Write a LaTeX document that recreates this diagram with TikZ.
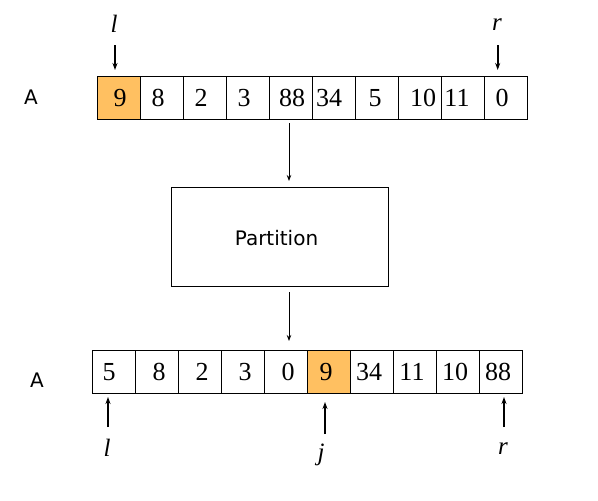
\documentclass[tikz,border=0pt]{standalone}
\usepackage{fontspec}
\setmainfont{Liberation Serif}
\newfontfamily\labelfont{DejaVu Sans}
\usetikzlibrary{arrows.meta}
\definecolor{hl}{RGB}{255,192,97}
\begin{document}
\begin{tikzpicture}[x=1pt,y=-1pt,
  cell/.style={draw, line width=1pt, minimum width=43pt, minimum height=43pt, inner sep=0pt, outer sep=0pt, anchor=north west},
  num/.style={inner sep=0pt, font=\fontsize{26}{26}\selectfont},
  ptrlab/.style={inner sep=0pt, font=\fontsize{25}{25}\selectfont\itshape},
  sans/.style={inner sep=0pt, font=\labelfont\fontsize{20}{20}\selectfont},
  ptr/.style={line width=1.6pt, -{Stealth[length=7pt,width=5pt]}},
  flow/.style={line width=0.9pt, -{Stealth[length=6pt,width=4.5pt]}}]
\useasboundingbox (0,0) rectangle (598,501);
% top array
\node[cell, fill=hl] (t1) at (97.3,76) {};
\node[cell] (t2) at (140.3,76) {};
\node[cell] (t3) at (183.3,76) {};
\node[cell] (t4) at (226.3,76) {};
\node[cell] (t5) at (269.3,76) {};
\node[cell] (t6) at (312.3,76) {};
\node[cell] (t7) at (355.3,76) {};
\node[cell] (t8) at (398.3,76) {};
\node[cell] (t9) at (441.3,76) {};
\node[cell] (t10) at (484.3,76) {};
\node[num] (tn1) at (120,98) {9};
\node[num] (tn2) at (158,98) {8};
\node[num] (tn3) at (201,98) {2};
\node[num] (tn4) at (244,98) {3};
\node[num] (tn5) at (292,98) {88};
\node[num] (tn6) at (329,98) {34};
\node[num] (tn7) at (375,98) {5};
\node[num] (tn8) at (423,98) {10};
\node[num] (tn9) at (457,98) {11};
\node[num] (tn10) at (502,98) {0};
\node[sans] (ta) at (31,97) {A};
\node[ptrlab] (tl) at (114,24) {l};
\node[ptrlab] (tr) at (497,25) {r};
\coordinate (tls) at (115,45); \coordinate (tle) at (115,70);
\coordinate (trs) at (497.7,45); \coordinate (tre) at (497.7,70);
\draw[ptr] (tls) -- (tle);
\draw[ptr] (trs) -- (tre);
% partition box
\node[draw, line width=1pt, minimum width=216.5pt, minimum height=99pt, inner sep=0pt, anchor=north west] (box) at (171.3,187.3) {};
\node[sans] (ptxt) at (276.5,238) {Partition};
\coordinate (a1s) at (289,123); \coordinate (a1e) at (289,181);
\coordinate (a2s) at (289,292); \coordinate (a2e) at (289,341);
\draw[flow] (a1s) -- (a1e);
\draw[flow] (a2s) -- (a2e);
% bottom array
\node[cell] (b1) at (92.3,350) {};
\node[cell] (b2) at (135.3,350) {};
\node[cell] (b3) at (178.3,350) {};
\node[cell] (b4) at (221.3,350) {};
\node[cell] (b5) at (264.3,350) {};
\node[cell, fill=hl] (b6) at (307.3,350) {};
\node[cell] (b7) at (350.3,350) {};
\node[cell] (b8) at (393.3,350) {};
\node[cell] (b9) at (436.3,350) {};
\node[cell] (b10) at (479.3,350) {};
\node[num] (bn1) at (109,372) {5};
\node[num] (bn2) at (159,372) {8};
\node[num] (bn3) at (202,372) {2};
\node[num] (bn4) at (245,372) {3};
\node[num] (bn5) at (288,372) {0};
\node[num] (bn6) at (326,372) {9};
\node[num] (bn7) at (369,372) {34};
\node[num] (bn8) at (412,372) {11};
\node[num] (bn9) at (455,372) {10};
\node[num] (bn10) at (498,372) {88};
\node[sans] (ba) at (37,380) {A};
\node[ptrlab] (bl) at (107,448) {l};
\node[ptrlab] (bj) at (321,455) {j};
\node[ptrlab] (br) at (503,449) {r};
\coordinate (bls) at (108,427); \coordinate (ble) at (108,397);
\coordinate (bjs) at (325,434); \coordinate (bje) at (325,402);
\coordinate (brs) at (504,427); \coordinate (bre) at (504,397);
\draw[ptr] (bls) -- (ble);
\draw[ptr] (bjs) -- (bje);
\draw[ptr] (brs) -- (bre);
\end{tikzpicture}
\end{document}
